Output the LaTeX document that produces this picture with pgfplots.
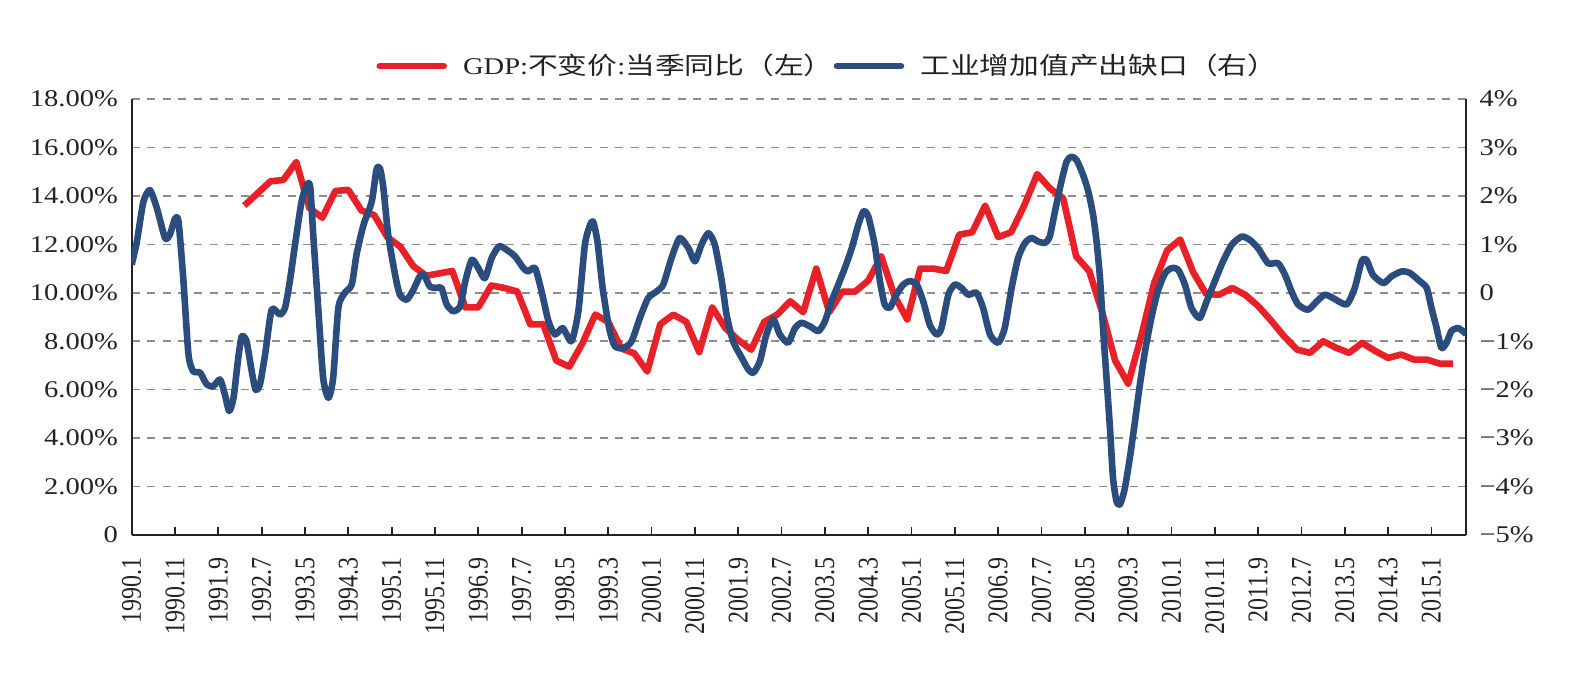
\documentclass[border=0pt]{standalone}
\usepackage{fontspec}
\setmainfont{Liberation Serif}[FakeStretch=1.19]
\newfontfamily\xlabfont{Liberation Serif}
\newfontfamily\cjk{Noto Sans CJK SC}[FakeStretch=1.24]
\usepackage{pgfplots}
\pgfplotsset{compat=1.18}

\definecolor{gdpred}{RGB}{232,32,40}
\definecolor{gapblue}{RGB}{43,77,126}
\definecolor{gridgray}{RGB}{140,140,140}
\definecolor{inkgray}{RGB}{35,35,35}

% quarterly GDP growth, x = months since 1990.1
\pgfplotstableread{
m   v
26  13.6
29  14.1
32  14.6
35  14.66
38  15.4
41  13.5
44  13.1
47  14.2
50  14.25
53  13.4
56  13.2
59  12.3
62  11.9
65  11.1
68  10.7
71  10.8
74  10.9
77  9.4
80  9.4
83  10.3
86  10.2
89  10.05
92  8.7
95  8.7
98  7.2
101 6.95
104 7.9
107 9.1
110 8.8
113 7.7
116 7.5
119 6.75
122 8.7
125 9.1
128 8.8
131 7.55
134 9.4
137 8.55
140 8.05
143 7.65
146 8.8
149 9.1
152 9.65
155 9.2
158 11.0
161 9.2
164 10.05
167 10.05
170 10.5
173 11.5
176 9.9
179 8.9
182 11.0
185 11.0
188 10.9
191 12.4
194 12.5
197 13.6
200 12.3
203 12.5
206 13.6
209 14.9
212 14.3
215 13.9
218 11.5
221 10.9
224 9.2
227 7.2
230 6.25
233 8.2
236 10.4
239 11.75
242 12.2
245 10.85
248 9.95
251 9.92
254 10.2
257 9.92
260 9.45
263 8.85
266 8.2
269 7.65
272 7.52
275 8.0
278 7.73
281 7.52
284 7.93
287 7.6
290 7.31
293 7.45
296 7.24
299 7.24
302 7.07
305 7.07
}\gdptable

% industrial value-added output gap, x = months since 1990.1
\pgfplotstableread{
m     v
0     0.58
1.2   1.06
2.7   1.88
4.2   2.12
5.8   1.75
7.7   1.13
8.8   1.20
10    1.53
10.8  1.47
11.9  0.30
13.1  -1.27
14.2  -1.62
15.8  -1.65
17.3  -1.89
18.8  -1.93
20.4  -1.79
21.5  -2.10
22.5  -2.44
23.5  -2.17
24.6  -1.34
25.4  -0.90
26.5  -1.00
27.7  -1.62
28.6  -2.0
29.6  -1.89
30.8  -1.27
32.3  -0.35
34.2  -0.45
35.4  -0.31
36.5  0.24
37.7  0.99
39.2  1.88
40.4  2.23
41.2  2.19
41.9  1.20
43.1  -0.38
44.2  -1.76
45.4  -2.17
46.5  -1.76
47.7  -0.31
49.2  0.0
50.8  0.17
51.9  0.79
53.5  1.40
55.4  1.88
56.5  2.54
57.3  2.57
58.1  2.16
59.2  1.20
60.8  0.37
61.9  -0.04
63.5  -0.14
65    0.06
66.5  0.34
67.5  0.37
68.8  0.13
70.4  0.10
71.5  0.10
72.7  -0.24
74.2  -0.38
75.8  -0.28
77    0.24
78.5  0.68
80    0.51
81.5  0.30
83.1  0.72
84.8  0.96
86.5  0.89
88.5  0.75
90.4  0.51
91.5  0.44
93.1  0.51
94.6  0.03
96.2  -0.59
97.7  -0.86
99.5  -0.73
101.5 -1.0
103.1 -0.38
104.6 0.99
105.8 1.40
106.5 1.47
107.5 1.06
108.7 0.10
110.2 -0.73
111.5 -1.10
113.5 -1.14
115.4 -1.0
117.3 -0.52
119.2 -0.11
121.2 0.03
122.7 0.17
124.6 0.72
126.5 1.13
128.5 0.92
130   0.65
131.5 0.99
133.1 1.23
134.6 0.99
136.2 0.24
137.3 -0.45
138.8 -1.0
140.8 -1.34
142.3 -1.58
143.5 -1.65
145   -1.41
146.5 -0.86
148.1 -0.55
149.6 -0.86
151.5 -1.03
153.1 -0.73
154.6 -0.62
156.5 -0.69
158.5 -0.79
160   -0.59
161.5 -0.18
163.1 0.17
164.6 0.51
166.2 0.92
167.7 1.40
168.9 1.68
170   1.58
171.5 0.99
172.7 0.24
173.8 -0.24
175   -0.31
176.5 -0.04
178.1 0.17
179.6 0.24
181.2 0.17
182.7 -0.18
184.2 -0.66
185.8 -0.86
186.9 -0.73
188.5 -0.04
190   0.17
191.5 0.10
193.1 -0.04
195   0.0
196.5 -0.31
198.1 -0.86
200   -1.03
201.5 -0.73
203.1 0.10
204.6 0.72
206.2 1.03
207.7 1.13
209.2 1.06
210.8 1.03
211.9 1.16
213.1 1.68
214.6 2.30
215.8 2.71
216.9 2.81
218.1 2.74
219.6 2.43
220.8 2.09
221.9 1.61
222.7 1.06
223.5 0.30
224.2 -0.73
225   -1.76
225.8 -2.79
226.5 -3.82
227.3 -4.30
228.1 -4.37
229.2 -4.05
230.4 -3.40
231.5 -2.70
232.7 -1.90
233.9 -1.20
235.4 -0.50
236.9 0.05
238.5 0.40
240   0.51
241.5 0.48
243.1 0.17
244.6 -0.31
246.5 -0.52
248.1 -0.18
250   0.24
251.9 0.65
253.9 0.99
256.2 1.16
258.1 1.09
260   0.92
262.3 0.61
264.6 0.61
266.2 0.37
267.7 0.03
269.2 -0.24
271.5 -0.35
273.5 -0.18
275.4 -0.04
277.3 -0.11
280.4 -0.24
282.3 0.10
283.9 0.65
285   0.68
286.5 0.37
288.9 0.20
290.8 0.34
293.1 0.44
295   0.41
297.3 0.24
298.9 0.10
300   -0.31
301.2 -0.73
302.3 -1.14
303.5 -1.03
304.6 -0.79
306.2 -0.73
308   -0.85
}\gaptable

\begin{document}
\begin{tikzpicture}
\pgfplotsset{
  chartbase/.style={
    scale only axis, width=667.2pt, height=218pt,
    xmin=0, xmax=308,
    axis line style={inkgray, line width=0.9pt, -},
    tick label style={font=\fontsize{12}{14}\selectfont, text=inkgray},
    ytick style={draw=none},
  },
}
\begin{axis}[chartbase,
  axis x line*=bottom, axis y line*=left,
  ymin=0, ymax=18,
  ytick={0,2,...,18},
  yticklabels={0,2.00\%,4.00\%,6.00\%,8.00\%,10.00\%,12.00\%,14.00\%,16.00\%,18.00\%},
  ymajorgrids,
  grid style={gridgray, line width=0.75pt, dash pattern=on 4pt off 3.8pt},
  tick align=inside,
  xtick={0,10,...,300},
  xticklabels={1990.1,1990.11,1991.9,1992.7,1993.5,1994.3,1995.1,1995.11,1996.9,1997.7,1998.5,1999.3,2000.1,2000.11,2001.9,2002.7,2003.5,2004.3,2005.1,2005.11,2006.9,2007.7,2008.5,2009.3,2010.1,2010.11,2011.9,2012.7,2013.5,2014.3,2015.1},
  xtick style={inkgray, line width=0.9pt},
  major tick length=3.8pt,
  xticklabel style={font=\xlabfont\fontsize{12}{14}\selectfont, rotate=90, yscale=1.19, anchor=east, inner sep=0pt},
  xticklabel shift=11pt,
  yticklabel style={inner sep=0pt},
  yticklabel shift=6.7pt,
]
\addplot[gdpred, line width=3.3pt, line join=round] table[x=m, y=v] {\gdptable};
\end{axis}

\begin{axis}[chartbase,
  axis x line=none, axis y line*=right,
  ymin=-5, ymax=4,
  ytick={-5,-4,...,4},
  yticklabels={−5\%,−4\%,−3\%,−2\%,−1\%,0,1\%,2\%,3\%,4\%},
  yticklabel style={inner sep=0pt},
  yticklabel shift=6.5pt,
  legend columns=2,
  legend style={draw=none, fill=none, at={(0.521,1.0757)}, anchor=center,
    font=\fontsize{12}{14}\selectfont, text=inkgray, inner sep=0pt,
    column sep=0pt, nodes={inner sep=0pt}},
  legend image code/.code={\draw[#1, line cap=round] (0pt,0pt) -- (32pt,0pt); \path (40pt,0pt);},
]
\addlegendimage{gdpred, line width=3.3pt}
\addlegendentry{GDP:{\cjk 不变价}:{\cjk 当季同比（左）}}
\addplot[gapblue, line width=3.3pt, smooth, tension=0.4, line join=round] table[x=m, y=v] {\gaptable};
\addlegendentry{{\cjk 工业增加值产出缺口（右）}}
\end{axis}
\pgfresetboundingbox
\path[use as bounding box] (-65.85pt,-75.5pt) rectangle (727.15pt,267.5pt);
\end{tikzpicture}
\end{document}
